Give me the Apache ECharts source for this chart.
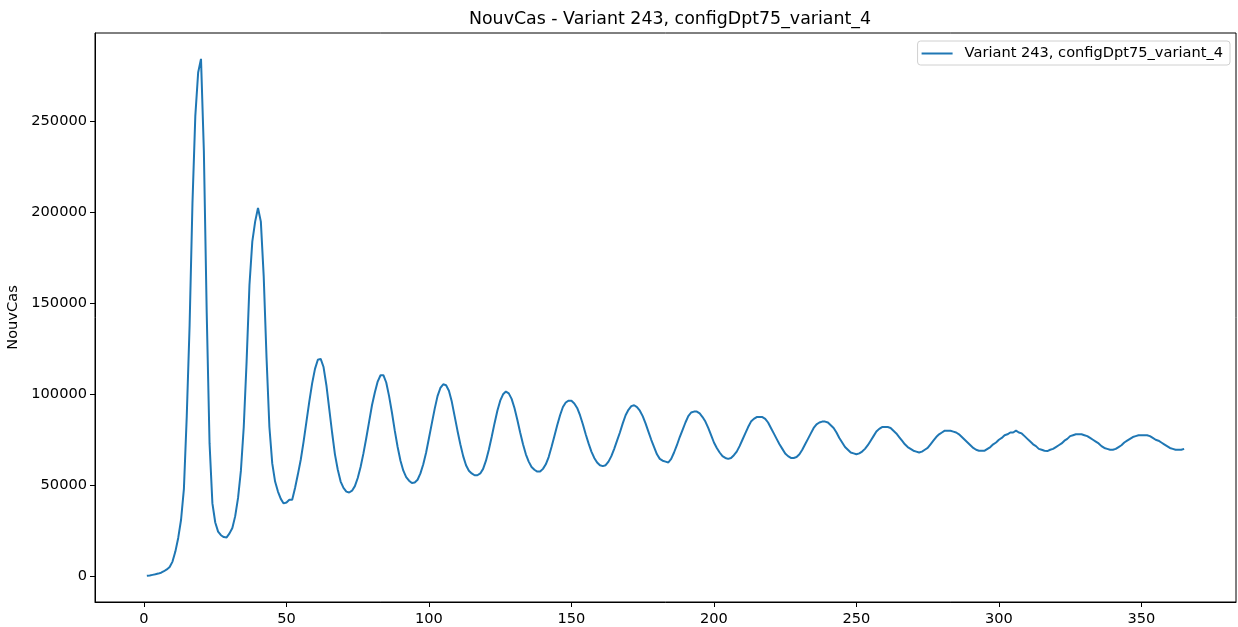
<!DOCTYPE html>
<html>
<head>
<meta charset="utf-8">
<script src="https://cdn.jsdelivr.net/npm/echarts@6/dist/echarts.min.js"></script>
<style>
html,body{margin:0;padding:0;background:#fff;}
#chart{width:1238px;height:627px;}
</style>
</head>
<body>
<div id="chart"></div>
<script>
// ---- data ----
const titleText = "NouvCas - Variant 243, configDpt75_variant_4";
const seriesName = "Variant 243, configDpt75_variant_4";
const yAxisName = "NouvCas";
const xTicks = [0, 50, 100, 150, 200, 250, 300, 350];
const yTicks = [0, 50000, 100000, 150000, 200000, 250000];
const startDay = 1;
// NouvCas per day, day 1 .. 365
const nouvCas = [
  200, 400, 700, 1000, 1400, 1900, 2700, 3700, 5000,                    // 1-9
  8000, 13500, 21000, 31000, 48000, 88000, 138000, 205000, 253000, 277000,   // 10-19
  284500, 234000, 145000, 73000, 40000, 29500, 24500, 22500, 21500, 21300,   // 20-29
  23500, 26500, 33000, 43000, 58000, 82000, 118000, 160000, 184000, 195000,  // 30-39
  202500, 195000, 165000, 120000, 82000, 62000, 52000, 46500, 42500, 40000,  // 40-49
  40500, 42000, 42000, 48500, 56000, 64000, 74000, 85000, 96000, 106000,     // 50-59
  114000, 119000, 119500, 115000, 105000, 92000, 79000, 67000, 58500, 52000, // 60-69
  48500, 46500, 46000, 47000, 49500, 54000, 60000, 67500, 76000, 85000,      // 70-79
  94000, 101000, 107000, 110500, 110500, 106500, 99000, 90000, 80000, 71000, // 80-89
  63500, 58000, 54500, 52500, 51200, 51500, 53000, 56500, 61500, 68000,      // 90-99
  76000, 84000, 92000, 99000, 103500, 105500, 105000, 102000, 96000, 88000,  // 100-109
  80000, 72500, 66000, 61000, 58000, 56500, 55500, 55500, 56500, 59000,      // 110-119
  63500, 69500, 76500, 84000, 91000, 96500, 100000, 101500, 100500, 97500,   // 120-129
  92500, 86000, 79000, 72500, 67000, 63000, 60000, 58500, 57500, 57500,      // 130-139
  59000, 61500, 65500, 71000, 77000, 83000, 88500, 93000, 95500, 96500,      // 140-149
  96500, 95000, 92500, 88500, 83500, 78000, 73000, 68500, 65000, 62500,      // 150-159
  61000, 60500, 61000, 63000, 66000, 70000, 74500, 79000, 84000, 88500,      // 160-169
  91500, 93500, 94000, 93000, 91000, 88000, 84000, 79500, 75000, 71000,      // 170-179
  67000, 64500, 63500, 63000, 62500, 64500, 68000, 72000, 76500, 80500,      // 180-189
  84500, 88000, 90000, 90500, 90500, 89500, 87500, 85000, 81500, 77500,      // 190-199
  73500, 70500, 68000, 66000, 65000, 64500, 65000, 66500, 68500, 71500,      // 200-209
  75000, 78500, 82000, 85000, 86500, 87500, 87500, 87500, 86500, 84500,      // 210-219
  81500, 78500, 75500, 72500, 70000, 67500, 66000, 65000, 65000, 65500,      // 220-229
  67000, 69500, 72500, 75500, 78500, 81500, 83500, 84500, 85000, 85000,      // 230-239
  84500, 83000, 81500, 79000, 76000, 73500, 71000, 69500, 68000, 67500,      // 240-249
  67000, 67500, 68500, 70000, 72000, 74500, 77000, 79500, 81000, 82000,      // 250-259
  82000, 82000, 81500, 80000, 78500, 76500, 74500, 72500, 71000, 70000,      // 260-269
  69000, 68500, 68000, 68500, 69500, 70500, 72500, 74500, 76500, 78000,      // 270-279
  79000, 80000, 80000, 80000, 79500, 79000, 78000, 76500, 75000, 73500,      // 280-289
  72000, 70500, 69500, 69000, 69000, 69000, 70000, 71000, 72500, 73500,      // 290-299
  75000, 76000, 77500, 78000, 79000, 79000, 80000, 79000, 78500, 77000,      // 300-309
  75500, 74000, 72500, 71500, 70000, 69500, 69000, 68800, 69500, 70000,      // 310-319
  71000, 72000, 73000, 74500, 75500, 77000, 77500, 78000, 78000, 78000,      // 320-329
  77500, 77000, 76000, 75000, 74000, 73000, 71500, 70500, 70000, 69500,      // 330-339
  69500, 70000, 71000, 72000, 73500, 74500, 75500, 76500, 77000, 77500,      // 340-349
  77500, 77500, 77500, 77000, 76000, 75000, 74500, 73500, 72500, 71500,      // 350-359
  70500, 70000, 69500, 69500, 69500, 70000                                   // 360-365
];

// ---- chart ----
const lineData = nouvCas.map((v, i) => [startDay + i, v]);
const xFirst = startDay, xLast = startDay + nouvCas.length - 1;
const xPad = (xLast - xFirst) * 0.05;
const yMaxData = Math.max(...nouvCas), yMinData = 0;
const yPad = (yMaxData - yMinData) * 0.05;

const FONT = "'DejaVu Sans', sans-serif";
const LBL = 14.6;
const chart = echarts.init(document.getElementById('chart'), null, {renderer: 'canvas'});
chart.setOption({
  animation: false,
  backgroundColor: '#ffffff',
  title: {
    text: titleText,
    left: 665, top: 6, textAlign: 'center',
    textStyle: {fontFamily: FONT, fontSize: 17.4, fontWeight: 'normal', color: '#000'}
  },
  legend: {
    data: [{name: seriesName}],
    right: 8, top: 41,
    orient: 'vertical',
    padding: [5, 7, 4, 4],
    itemWidth: 31, itemHeight: 2,
    itemGap: 0,
    icon: 'rect',
    borderColor: '#d0d0d0', borderWidth: 1, borderRadius: 3,
    backgroundColor: '#fff',
    textStyle: {fontFamily: FONT, fontSize: LBL, color: '#000', padding: [0, 0, 0, 7]}
  },
  grid: {
    left: 95, top: 33, width: 1141, height: 569,
    show: true, borderColor: '#000', borderWidth: 1,
    containLabel: false, outerBoundsMode: 'none'
  },
  xAxis: {
    type: 'value',
    min: xFirst - xPad, max: xLast + xPad,
    axisLine: {show: true, onZero: false, lineStyle: {color: '#000', width: 1}},
    axisTick: {show: true, length: 5, customValues: xTicks, lineStyle: {color: '#000', width: 1}},
    axisLabel: {customValues: xTicks, margin: 10, fontFamily: FONT, fontSize: LBL, color: '#000'},
    splitLine: {show: false}
  },
  yAxis: {
    type: 'value',
    min: yMinData - yPad, max: yMaxData + yPad,
    name: yAxisName, nameLocation: 'middle', nameGap: 67,
    nameTextStyle: {fontFamily: FONT, fontSize: LBL, color: '#000'},
    axisLine: {show: true, onZero: false, lineStyle: {color: '#000', width: 1}},
    axisTick: {show: true, length: 5, customValues: yTicks, lineStyle: {color: '#000', width: 1}},
    axisLabel: {customValues: yTicks, margin: 8, fontFamily: FONT, fontSize: LBL, color: '#000',
      formatter: v => String(Math.round(v))},
    splitLine: {show: false}
  },
  series: [{
    name: seriesName,
    type: 'line',
    data: lineData,
    showSymbol: false,
    symbol: 'none',
    color: '#1f77b4',
    lineStyle: {color: '#1f77b4', width: 2},
    z: 3
  }]
});
</script>
</body>
</html>
